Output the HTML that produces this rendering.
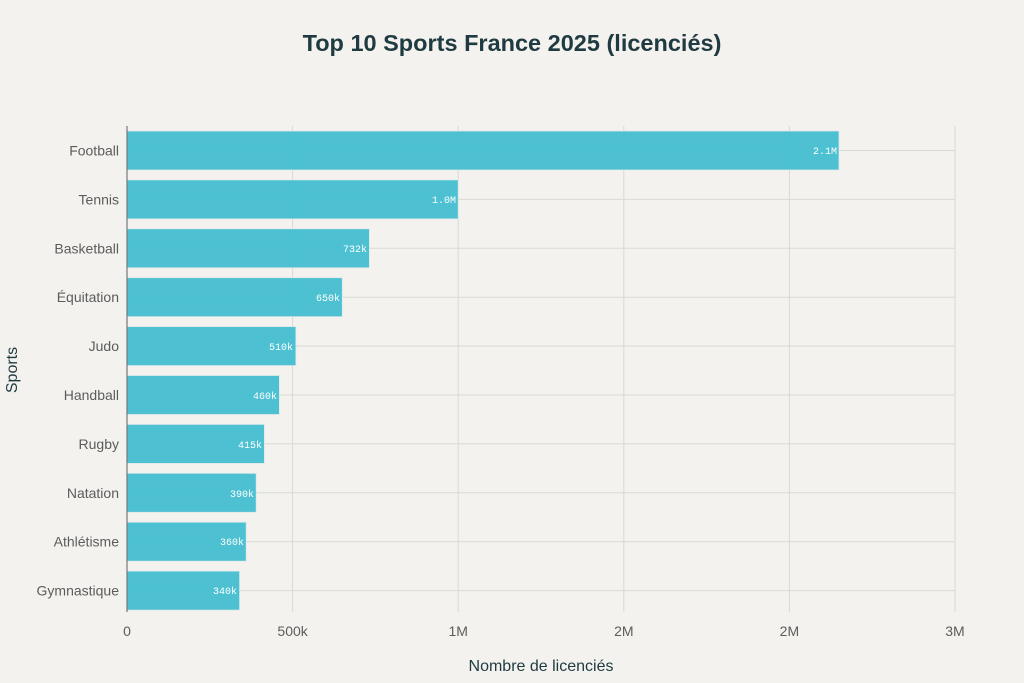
<!DOCTYPE html>
<html><head><meta charset="utf-8"><style>
html,body{margin:0;padding:0;background:#f3f2ee;}
svg{display:block;font-family:"Liberation Sans",sans-serif;}
</style></head><body>
<svg width="1024" height="683" viewBox="0 0 1024 683" xmlns="http://www.w3.org/2000/svg">
<rect width="1024" height="683" fill="#f3f2ee"/>
<text x="512" y="51" text-anchor="middle" font-size="23.5" font-weight="bold" fill="#1f3a40">Top 10 Sports France 2025 (licenciés)</text>
<g stroke="#d9d9d4" stroke-width="1">
<line x1="292.6" y1="126" x2="292.6" y2="612"/>
<line x1="458.2" y1="126" x2="458.2" y2="612"/>
<line x1="623.8" y1="126" x2="623.8" y2="612"/>
<line x1="789.4" y1="126" x2="789.4" y2="612"/>
<line x1="955" y1="126" x2="955" y2="612"/>
</g>
<g stroke="#d9d9d4" stroke-width="1">
<line x1="127" y1="150.5" x2="955" y2="150.5"/><line x1="127" y1="199.4" x2="955" y2="199.4"/>
<line x1="127" y1="248.3" x2="955" y2="248.3"/><line x1="127" y1="297.2" x2="955" y2="297.2"/>
<line x1="127" y1="346.1" x2="955" y2="346.1"/><line x1="127" y1="395" x2="955" y2="395"/>
<line x1="127" y1="443.9" x2="955" y2="443.9"/><line x1="127" y1="492.8" x2="955" y2="492.8"/>
<line x1="127" y1="541.7" x2="955" y2="541.7"/><line x1="127" y1="590.6" x2="955" y2="590.6"/>
</g>
<g fill="#3fbdd0" fill-opacity="0.93" stroke="#dfe9e8" stroke-width="0.8">
<rect x="127" y="131" width="712" height="39"/>
<rect x="127" y="179.9" width="331.2" height="39"/>
<rect x="127" y="228.8" width="242.4" height="39"/>
<rect x="127" y="277.7" width="215.3" height="39"/>
<rect x="127" y="326.6" width="168.9" height="39"/>
<rect x="127" y="375.5" width="152.4" height="39"/>
<rect x="127" y="424.4" width="137.4" height="39"/>
<rect x="127" y="473.3" width="129.2" height="39"/>
<rect x="127" y="522.2" width="119.2" height="39"/>
<rect x="127" y="571.1" width="112.6" height="39"/>
</g>
<g font-family="'Liberation Mono',monospace" font-size="10" fill="#ffffff" text-anchor="end">
<text x="837" y="154">2.1M</text>
<text x="456" y="203">1.0M</text>
<text x="367" y="252">732k</text>
<text x="340" y="301">650k</text>
<text x="293" y="350">510k</text>
<text x="277" y="399">460k</text>
<text x="262" y="448">415k</text>
<text x="254" y="497">390k</text>
<text x="244" y="545">360k</text>
<text x="237" y="594">340k</text>
</g>
<line x1="127" y1="126" x2="127" y2="612" stroke="#777" stroke-width="1.2"/>
<g font-size="14" fill="#5c5c5c" text-anchor="end">
<text x="119" y="155.5">Football</text>
<text x="119" y="204.4">Tennis</text>
<text x="119" y="253.3">Basketball</text>
<text x="119" y="302.2">Équitation</text>
<text x="119" y="351.1">Judo</text>
<text x="119" y="400">Handball</text>
<text x="119" y="448.9">Rugby</text>
<text x="119" y="497.8">Natation</text>
<text x="119" y="546.7">Athlétisme</text>
<text x="119" y="595.6">Gymnastique</text>
</g>
<g font-size="14" fill="#5c5c5c" text-anchor="middle">
<text x="127" y="636">0</text>
<text x="292.6" y="636">500k</text>
<text x="458.2" y="636">1M</text>
<text x="623.8" y="636">2M</text>
<text x="789.4" y="636">2M</text>
<text x="955" y="636">3M</text>
</g>
<text x="541" y="671" text-anchor="middle" font-size="16" fill="#1f3a40">Nombre de licenciés</text>
<text transform="translate(17,370) rotate(-90)" text-anchor="middle" font-size="16" fill="#1f3a40">Sports</text>
</svg>
</body></html>
